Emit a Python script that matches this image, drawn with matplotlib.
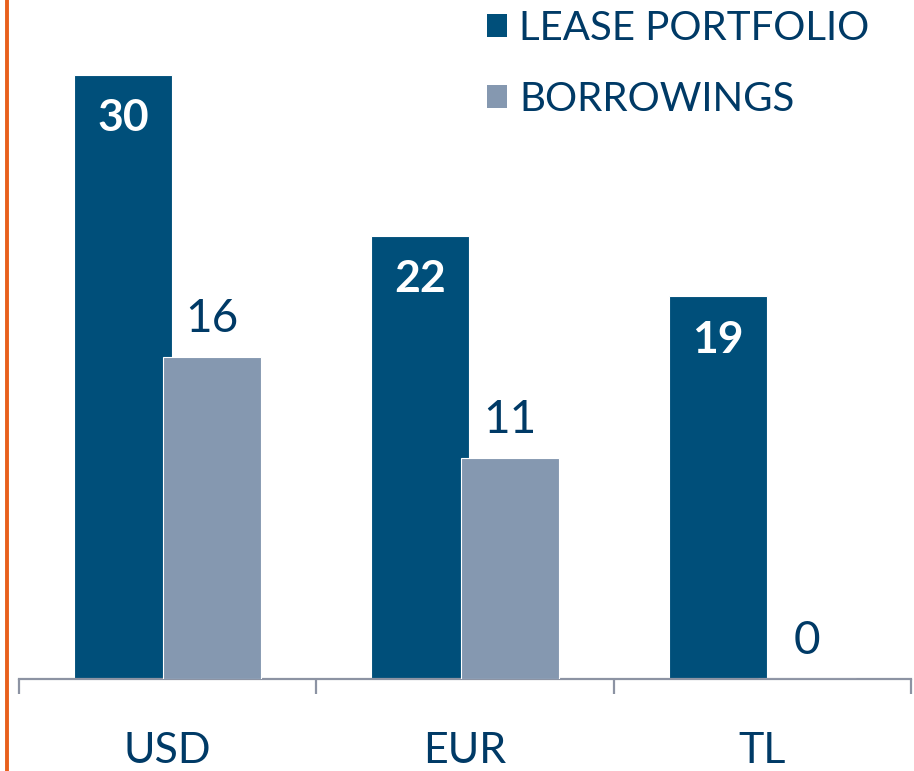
import matplotlib.pyplot as plt
import numpy as np
from matplotlib.lines import Line2D
from matplotlib.patches import Patch

categories = ['USD', 'EUR', 'TL']
lease = [30, 22, 19]
borrowings = [16, 11, 0]
series_names = ['LEASE PORTFOLIO', 'BORROWINGS']

dark = '#004F7A'
light = '#8598B0'
navy = '#003A66'

plt.rcParams['font.family'] = ['Lato', 'DejaVu Sans']

fig = plt.figure(figsize=(9.14, 7.71), dpi=100, facecolor='white')
ax = fig.add_axes([19 / 914, 92 / 771, 892 / 914, 604 / 771])

x = np.arange(len(categories))
w = 0.33
b1 = ax.bar(x - 0.15, lease, w, color=dark, edgecolor='white', linewidth=0.8, zorder=2)
b2 = ax.bar(x + 0.15, borrowings, w, color=light, edgecolor='white', linewidth=0.8, zorder=3)

for rect, v in zip(b1, lease):
    ax.annotate(str(v), (rect.get_x() + rect.get_width() / 2, v), xytext=(0, -31),
                textcoords='offset points', ha='center', va='center',
                color='white', fontsize=32, fontweight='bold')
for rect, v in zip(b2, borrowings):
    ax.annotate(str(v), (rect.get_x() + rect.get_width() / 2, v), xytext=(0, 27),
                textcoords='offset points', ha='center', va='center',
                color=navy, fontsize=33)

ax.set_xlim(-0.5, len(categories) - 0.5)
ax.set_ylim(0, 30)
ax.set_yticks([])
for s in ['top', 'right', 'left']:
    ax.spines[s].set_visible(False)
ax.spines['bottom'].set_color('#8C93A3')
ax.spines['bottom'].set_linewidth(1.6)

ax.set_xticks(x)
ax.set_xticklabels(categories, fontsize=31, color=navy)
ax.tick_params(axis='x', which='major', length=0, pad=38)
ax.set_xticks(np.arange(len(categories) + 1) - 0.5, minor=True)
ax.tick_params(axis='x', which='minor', length=11, width=1.6, color='#8C93A3')

handles = [Patch(facecolor=dark), Patch(facecolor=light)]
leg = ax.legend(handles, series_names, loc='upper left', bbox_to_anchor=(487 / 914, 1 - 10 / 771),
                bbox_transform=fig.transFigure, frameon=False, fontsize=29,
                handlelength=0.5, handleheight=0.5, handletextpad=0.3,
                labelspacing=0.85, borderpad=0, borderaxespad=0)
for t in leg.get_texts():
    t.set_color(navy)

fig.add_artist(Line2D([7 / 914, 7 / 914], [0, 1], transform=fig.transFigure,
                      color='#E8601C', linewidth=2.8))

fig.savefig('out.png', dpi=100, facecolor='white')
